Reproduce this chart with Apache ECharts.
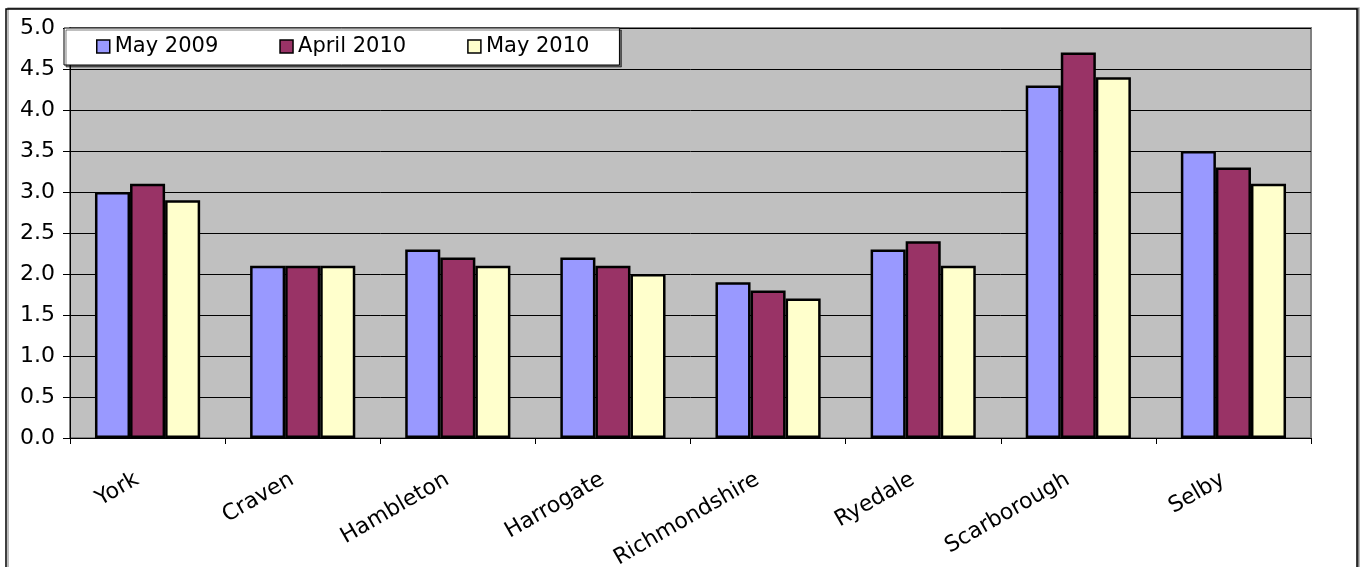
<!DOCTYPE html>
<html>
<head>
<meta charset="utf-8">
<script src="https://cdn.jsdelivr.net/npm/echarts@6/dist/echarts.min.js"></script>
<style>
html,body{margin:0;padding:0;background:#fff;}
#chart{width:1364px;height:567px;}
</style>
</head>
<body>
<div id="chart"></div>
<script>
const categories = ['York','Craven','Hambleton','Harrogate','Richmondshire','Ryedale','Scarborough','Selby'];
const may2009 = [3.0, 2.1, 2.3, 2.2, 1.9, 2.3, 4.3, 3.5];
const april2010 = [3.1, 2.1, 2.2, 2.1, 1.8, 2.4, 4.7, 3.3];
const may2010 = [2.9, 2.1, 2.1, 2.0, 1.7, 2.1, 4.4, 3.1];
const seriesNames = ['May 2009','April 2010','May 2010'];

const font = 'DejaVu Sans';
const chart = echarts.init(document.getElementById('chart'), null, {renderer:'canvas'});
const barStyle = (c) => ({color:c, borderColor:'#000', borderWidth:2.5});
chart.setOption({
  animation:false,
  textStyle:{fontFamily:font, color:'#000'},
  graphic:[{
    type:'rect', z:-10, silent:true,
    shape:{x:6, y:9, width:1351, height:620},
    style:{fill:'#fff', stroke:'#000', lineWidth:1.5, shadowColor:'rgba(0,0,0,0.35)', shadowOffsetX:2, shadowOffsetY:-1, shadowBlur:0}
  }],
  grid:{left:70, right:53, top:28, bottom:129, containLabel:false, outerBoundsMode:'none', show:true, backgroundColor:'#C0C0C0', borderColor:'#808080', borderWidth:2},
  legend:{
    left:64, top:28, orient:'horizontal',
    data:seriesNames,
    icon:'rect', itemWidth:13, itemHeight:13, itemGap:61,
    backgroundColor:'#fff', borderColor:'#000', borderWidth:1,
    padding:[8,30,8,32],
    shadowColor:'rgba(0,0,0,0.5)', shadowOffsetX:2, shadowOffsetY:2,
    textStyle:{fontFamily:font, fontSize:21, color:'#000'},
    itemStyle:{borderColor:'#000', borderWidth:1.5}
  },
  xAxis:{
    type:'category', data:categories,
    axisLine:{lineStyle:{color:'#000', width:1}},
    axisTick:{show:true, length:6, lineStyle:{color:'#000'}},
    axisLabel:{rotate:30, margin:34, padding:[0,12,0,0], fontFamily:font, fontSize:22, color:'#000'}
  },
  yAxis:{
    type:'value', min:0, max:5, interval:0.5,
    axisLine:{show:true, lineStyle:{color:'#000', width:1}},
    axisTick:{show:true, length:7, lineStyle:{color:'#000'}},
    splitLine:{show:true, lineStyle:{color:'#000', width:1}},
    axisLabel:{margin:15, fontFamily:font, fontSize:22, color:'#000', formatter:(v)=>v.toFixed(1)}
  },
  series:[
    {name:seriesNames[0], type:'bar', data:may2009, barWidth:'22.6%', barGap:'0%', itemStyle:barStyle('#9999FF')},
    {name:seriesNames[1], type:'bar', data:april2010, barWidth:'22.6%', barGap:'0%', itemStyle:barStyle('#993366')},
    {name:seriesNames[2], type:'bar', data:may2010, barWidth:'22.6%', barGap:'0%', itemStyle:barStyle('#FFFFCC')}
  ]
});
</script>
</body>
</html>
